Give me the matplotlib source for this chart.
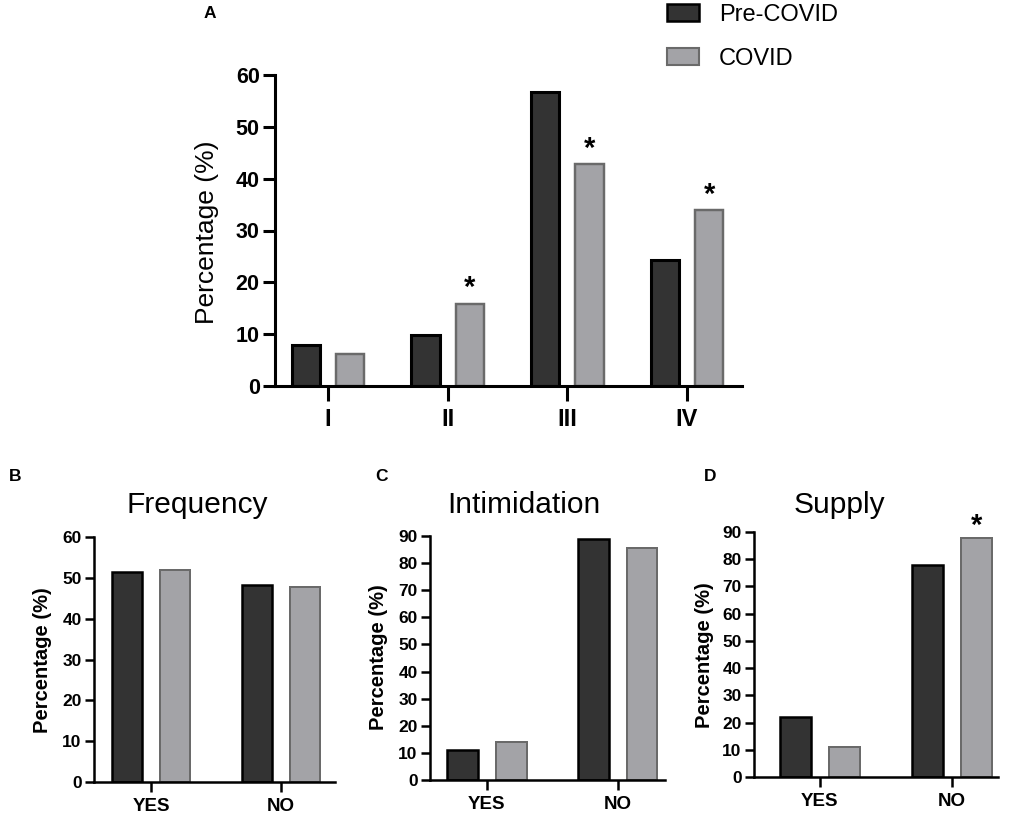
import numpy as np
import matplotlib.pyplot as plt
from matplotlib.patches import Patch
plt.switch_backend('agg')

plt.rcParams['font.family'] = ['Liberation Sans', 'DejaVu Sans']

# data
stages = ['I', 'II', 'III', 'IV']
stage_pre = [7.9, 9.9, 56.8, 24.3]
stage_covid = [6.2, 15.9, 42.8, 33.9]
stage_sig = [False, True, True, True]

yes_no = ['YES', 'NO']
freq_pre = [51.4, 48.2]
freq_covid = [51.9, 47.8]
intim_pre = [11.0, 88.8]
intim_covid = [14.0, 85.4]
supply_pre = [21.9, 77.7]
supply_covid = [11.2, 87.7]
supply_sig = [False, True]

dark = '#333333'
light = '#a3a3a7'
W, H = 1013, 819


def px_axes(fig, left, right, top, bottom):
    return fig.add_axes([left / W, 1 - bottom / H, (right - left) / W, (bottom - top) / H])


def draw_bars(ax, cats, pre, covid, sig, star_off, lw, width=0.235, off=0.185):
    x = np.arange(len(cats))
    ax.bar(x - off, pre, width, color=dark, edgecolor='black', linewidth=lw)
    ax.bar(x + off, covid, width, color=light, edgecolor='#6a6a6a', linewidth=lw * 0.8)
    for xi, v, s in zip(x, covid, sig):
        if s:
            ax.text(xi + off, v + star_off, '*', ha='center', va='center',
                    fontsize=21, fontweight='bold', clip_on=False)
    ax.set_xticks(x)
    ax.set_xticklabels(cats)
    for s in ['top', 'right']:
        ax.spines[s].set_visible(False)
    for s in ['left', 'bottom']:
        ax.spines[s].set_linewidth(lw)


def ylabel_at(fig, x, y, size, weight):
    fig.text(x / W, 1 - y / H, 'Percentage (%)', rotation=90, fontsize=size,
             fontweight=weight, ha='center', va='center')


fig = plt.figure(figsize=(W / 100, H / 100), dpi=100)

# panel A
axA = px_axes(fig, 275, 742, 75, 386)
axA.set_ylim(0, 60)
axA.set_xlim(-0.443, 3.46)
draw_bars(axA, stages, stage_pre, stage_covid, stage_sig, 3.0, 2.2)
axA.set_yticks(range(0, 61, 10))
axA.tick_params(axis='y', length=9, width=2.2, labelsize=15.5, pad=2)
axA.tick_params(axis='x', length=11, width=2.2, labelsize=17, pad=5)
for t in axA.get_xticklabels() + axA.get_yticklabels():
    t.set_fontweight('bold')
ylabel_at(fig, 207, 232, 19, 'normal')
fig.text(210 / W, 1 - 14 / H, 'A', fontsize=12.5, fontweight='bold', ha='center', va='center')

handles = [Patch(facecolor=dark, edgecolor='black', linewidth=1.8),
           Patch(facecolor=light, edgecolor='#6a6a6a', linewidth=1.5)]
fig.legend(handles, ['Pre-COVID', 'COVID'], loc='upper left',
           bbox_to_anchor=(667 / W, 1 - 4 / H), frameon=False, fontsize=17,
           borderpad=0, borderaxespad=0,
           handlelength=1.36, handleheight=0.76, labelspacing=0.93, handletextpad=0.85)

# panels B, C, D
small = [
    ('B', 'Frequency', freq_pre, freq_covid, [False, False], 60, (94, 335, 537, 782), (-0.44, 1.415), 15, 197, (42, 660)),
    ('C', 'Intimidation', intim_pre, intim_covid, [False, False], 90, (430, 665, 536, 780), (-0.435, 1.36), 381, 524, (378, 657)),
    ('D', 'Supply', supply_pre, supply_covid, supply_sig, 90, (754, 998, 532, 777), (-0.5, 1.35), 710, 839, (704, 655)),
]
for lab, title, pre, cov, sig, ymax, box, xl, lab_x, title_x, ylab in small:
    ax = px_axes(fig, *box)
    ax.set_ylim(0, ymax)
    ax.set_xlim(*xl)
    draw_bars(ax, yes_no, pre, cov, sig, ymax * 0.05, 1.8)
    ax.set_yticks(range(0, ymax + 1, 10))
    ax.tick_params(axis='y', length=6.5, width=1.8, labelsize=12.5, pad=2.5)
    ax.tick_params(axis='x', length=7.5, width=1.8, labelsize=13.5, pad=4)
    for t in ax.get_xticklabels() + ax.get_yticklabels():
        t.set_fontweight('bold')
    ylabel_at(fig, ylab[0], ylab[1], 14.5, 'bold')
    fig.text(title_x / W, 1 - 505 / H, title, fontsize=21.5, ha='center', va='center')
    fig.text(lab_x / W, 1 - 476 / H, lab, fontsize=12.5, fontweight='bold', ha='center', va='center')

fig.savefig('out.png', dpi=100)
